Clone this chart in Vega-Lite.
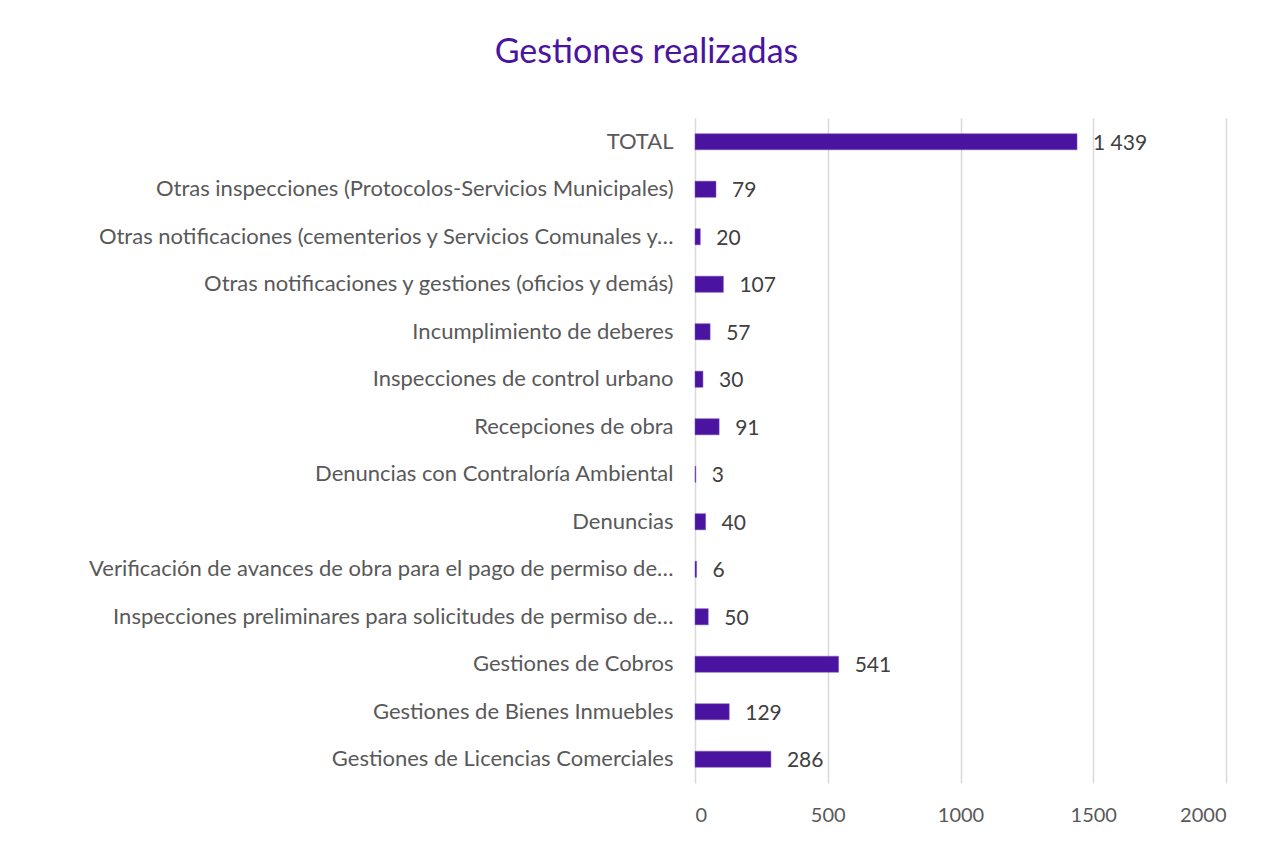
{
  "$schema": "https://vega.github.io/schema/vega-lite/v6.json",
  "autosize": {"type": "none"},
  "width": 531,
  "height": 665,
  "padding": {"left": 695, "top": 118, "right": 57, "bottom": 69},
  "background": "white",
  "title": {
    "text": "Gestiones realizadas",
    "font": "Lato",
    "fontSize": 34,
    "fontWeight": "normal",
    "color": "#4B14A0",
    "anchor": "middle",
    "dx": -314,
    "offset": 48
  },
  "data": {
    "values": [
      {"categoria": "TOTAL", "valor": 1439},
      {"categoria": "Otras inspecciones (Protocolos-Servicios Municipales)", "valor": 79},
      {"categoria": "Otras notificaciones (cementerios y Servicios Comunales y…", "valor": 20},
      {"categoria": "Otras notificaciones y gestiones (oficios y demás)", "valor": 107},
      {"categoria": "Incumplimiento de deberes", "valor": 57},
      {"categoria": "Inspecciones de control urbano", "valor": 30},
      {"categoria": "Recepciones de obra", "valor": 91},
      {"categoria": "Denuncias con Contraloría Ambiental", "valor": 3},
      {"categoria": "Denuncias", "valor": 40},
      {"categoria": "Verificación de avances de obra para el pago de permiso de…", "valor": 6},
      {"categoria": "Inspecciones preliminares para solicitudes de permiso de…", "valor": 50},
      {"categoria": "Gestiones de Cobros", "valor": 541},
      {"categoria": "Gestiones de Bienes Inmuebles", "valor": 129},
      {"categoria": "Gestiones de Licencias Comerciales", "valor": 286}
    ]
  },
  "encoding": {
    "y": {
      "field": "categoria",
      "type": "nominal",
      "sort": null,
      "scale": {"paddingInner": 0.66, "paddingOuter": 0.33},
      "axis": {
        "title": null,
        "ticks": false,
        "domain": false,
        "labelFont": "Lato",
        "labelFontSize": 22,
        "labelColor": "#595959",
        "labelPadding": 22,
        "labelLimit": 700
      }
    },
    "x": {
      "field": "valor",
      "type": "quantitative",
      "scale": {"domain": [0, 2000], "nice": false},
      "axis": {
        "title": null,
        "values": [0, 500, 1000, 1500, 2000],
        "format": "d",
        "ticks": false,
        "domain": false,
        "grid": true,
        "gridColor": "#D9D9D9",
        "gridWidth": 1.5,
        "labelFont": "Lato",
        "labelFontSize": 20,
        "labelColor": "#595959",
        "labelPadding": 22
      }
    }
  },
  "layer": [
    {
      "mark": {"type": "bar", "color": "#4B14A0", "stroke": "#7E57C2", "strokeWidth": 0.5}
    },
    {
      "mark": {
        "type": "text",
        "align": "left",
        "baseline": "middle",
        "dx": 16,
        "dy": 2,
        "font": "Lato",
        "fontSize": 21,
        "color": "#404040"
      },
      "encoding": {
        "text": {"field": "valor", "type": "quantitative", "format": ",d"}
      }
    }
  ],
  "config": {
    "view": {"stroke": null},
    "locale": {
      "number": {"decimal": ",", "thousands": " ", "grouping": [3], "currency": ["", " €"]}
    }
  }
}
